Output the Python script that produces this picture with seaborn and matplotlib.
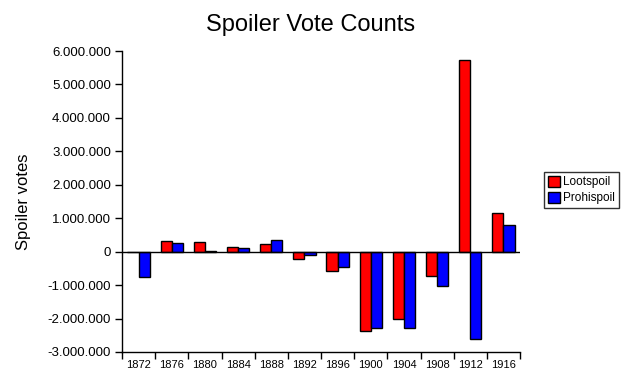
import matplotlib
matplotlib.use("Agg")
import matplotlib.pyplot as plt
import matplotlib.ticker as mticker
import seaborn as sns
import pandas as pd
import numpy as np

years = ["1872", "1876", "1880", "1884", "1888", "1892", "1896", "1900", "1904", "1908", "1912", "1916"]
lootspoil = [0, 330000, 300000, 150000, 240000, -220000, -580000, -2370000, -2000000, -730000, 5730000, 1160000]
prohispoil = [-760000, 270000, 30000, 120000, 360000, -100000, -460000, -2280000, -2280000, -1030000, -2610000, 810000]
series = ["Lootspoil", "Prohispoil"]
colors = ["#ff0000", "#0000ff"]

df = pd.DataFrame({
    "year": years * 2,
    "votes": lootspoil + prohispoil,
    "series": [series[0]] * len(years) + [series[1]] * len(years),
})

sns.set_style("white")
plt.rcParams["font.family"] = ["Liberation Sans", "DejaVu Sans"]
plt.rcParams["text.color"] = "black"
plt.rcParams["axes.labelcolor"] = "black"
plt.rcParams["xtick.color"] = "black"
plt.rcParams["ytick.color"] = "black"

fig = plt.figure(figsize=(6.21, 3.82), dpi=100)
ax = fig.add_axes([122 / 621, 1 - 352 / 382, (520 - 122) / 621, (352 - 51) / 382])

sns.barplot(data=df, x="year", y="votes", hue="series", palette=colors,
            order=years, hue_order=series, width=0.67, edgecolor="black",
            linewidth=1, ax=ax, errorbar=None, saturation=1)

ax.set_ylim(-3000000, 6000000)
ax.set_xlim(-0.5, len(years) - 0.5)
ax.yaxis.set_major_locator(mticker.MultipleLocator(1000000))
ax.yaxis.set_major_formatter(mticker.FuncFormatter(lambda v, p: f"{int(round(v)):,}".replace(",", ".")))
ax.axhline(0, color="black", lw=1, zorder=5)

for s in ["top", "right"]:
    ax.spines[s].set_visible(False)
for s in ["left", "bottom"]:
    ax.spines[s].set_color("black")
    ax.spines[s].set_linewidth(1)

ax.tick_params(axis="y", which="major", direction="out", length=5, width=1, color="black",
               labelsize=9.5, left=True, pad=3)
ax.tick_params(axis="x", which="major", length=0, labelsize=8, pad=6)
ax.set_xticks(np.arange(-0.5, len(years), 1.0), minor=True)
ax.tick_params(axis="x", which="minor", direction="out", length=5, width=1, color="black", bottom=True)

ax.set_xlabel("")
ax.set_ylabel("Spoiler votes", fontsize=12)
ax.yaxis.set_label_coords((31 - 122) / 398, 0.5)
fig.text(0.5, 1 - 31 / 382, "Spoiler Vote Counts", fontsize=17, ha="center", va="baseline")

leg = ax.legend(loc="upper left", bbox_to_anchor=(544 / 621, 1 - 172 / 382), bbox_transform=fig.transFigure,
                frameon=True, fancybox=False, fontsize=8.5, handlelength=1.0, handleheight=1.0,
                handletextpad=0.3, borderpad=0.35, labelspacing=0.3, borderaxespad=0)
leg.get_frame().set_edgecolor("black")
leg.get_frame().set_linewidth(1)

fig.savefig("out.png", dpi=100)
